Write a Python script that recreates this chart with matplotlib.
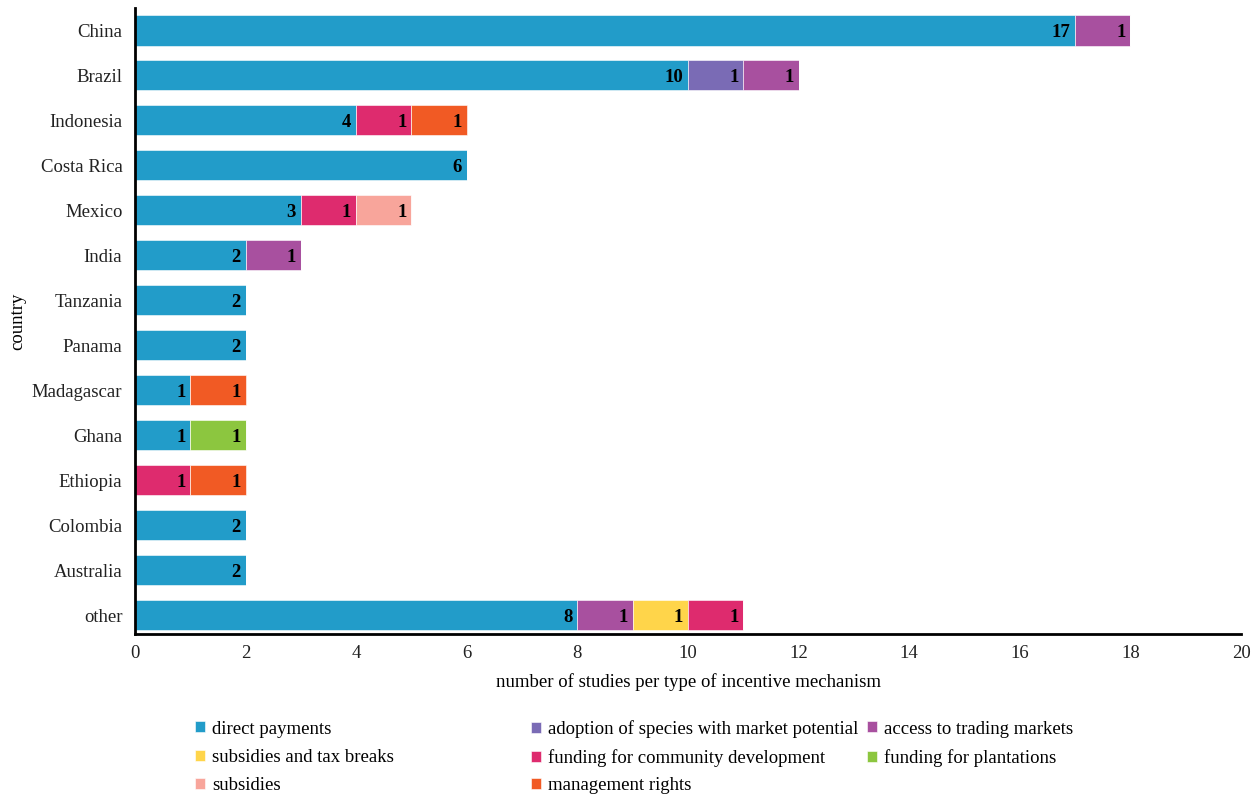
import matplotlib.pyplot as plt
import numpy as np

plt.rcParams['font.family'] = ['Liberation Serif', 'DejaVu Serif']

countries = ['China', 'Brazil', 'Indonesia', 'Costa Rica', 'Mexico', 'India', 'Tanzania',
             'Panama', 'Madagascar', 'Ghana', 'Ethiopia', 'Colombia', 'Australia', 'other']

series = ['direct payments', 'adoption of species with market potential', 'access to trading markets',
          'subsidies and tax breaks', 'funding for community development', 'funding for plantations',
          'subsidies', 'management rights']

colors = ['#229cc9', '#7a6bb5', '#a8509f', '#ffd54a', '#de2b6e', '#8cc63f', '#f8a59b', '#f15a24']

direct_payments = [17, 10, 4, 6, 3, 2, 2, 2, 1, 1, 0, 2, 2, 8]
adoption_species = [0, 1, 0, 0, 0, 0, 0, 0, 0, 0, 0, 0, 0, 0]
trading_markets = [1, 1, 0, 0, 0, 1, 0, 0, 0, 0, 0, 0, 0, 1]
subsidies_tax = [0, 0, 0, 0, 0, 0, 0, 0, 0, 0, 0, 0, 0, 1]
community_dev = [0, 0, 1, 0, 1, 0, 0, 0, 0, 0, 1, 0, 0, 1]
plantations = [0, 0, 0, 0, 0, 0, 0, 0, 0, 1, 0, 0, 0, 0]
subsidies = [0, 0, 0, 0, 1, 0, 0, 0, 0, 0, 0, 0, 0, 0]
management_rights = [0, 0, 1, 0, 0, 0, 0, 0, 1, 0, 1, 0, 0, 0]

values = [direct_payments, adoption_species, trading_markets, subsidies_tax,
          community_dev, plantations, subsidies, management_rights]

fig = plt.figure(figsize=(12.6, 7.96), dpi=100)
ax = fig.add_axes([0.1071, 0.2035, 0.8779, 0.7865])

y = np.arange(len(countries))
left = np.zeros(len(countries))
handles = []
for name, vals, col in zip(series, values, colors):
    vals = np.array(vals, dtype=float)
    bars = ax.barh(y, vals, left=left, height=0.67, color=col, edgecolor='white',
                   linewidth=0.4, label=name)
    handles.append(bars)
    for yi, l, v in zip(y, left, vals):
        if v > 0:
            ax.annotate(f'{int(v)}', xy=(l + v, yi), xytext=(-3.5, 0), textcoords='offset points',
                        ha='right', va='center_baseline', fontsize=13.5, fontweight='bold',
                        color='black')
    left = left + vals

ax.set_xlim(0, 20)
ax.set_ylim(len(countries) - 1 + 0.42, -0.5)
ax.set_yticks(y)
ax.set_yticklabels(countries)
ax.set_xticks(range(0, 21, 2))
ax.tick_params(axis='both', length=0, labelsize=13.5, colors='#222222')
ax.tick_params(axis='x', pad=8)
ax.tick_params(axis='y', pad=9)
for s in ['top', 'right']:
    ax.spines[s].set_visible(False)
for s in ['left', 'bottom']:
    ax.spines[s].set_linewidth(2)
    ax.spines[s].set_color('black')

ax.set_xlabel('number of studies per type of incentive mechanism', fontsize=13.5, labelpad=8)
ax.set_ylabel('country', fontsize=13.5, labelpad=4)

# legend: three fixed columns, filled row by row (one entry per legend so rows line up)
col_x = [195, 531, 867]
row_y = [729, 758, 786]
W, H = 1260.0, 796.0
for i, (h, name) in enumerate(zip(handles, series)):
    r, c = divmod(i, 3)
    fig.legend([h], [name], loc='center left',
               bbox_to_anchor=(col_x[c] / W, 1 - row_y[r] / H), frameon=False, fontsize=13.5,
               handlelength=0.53, handleheight=0.53, handletextpad=0.4,
               borderaxespad=0, borderpad=0)

fig.savefig('out.png', dpi=100)
